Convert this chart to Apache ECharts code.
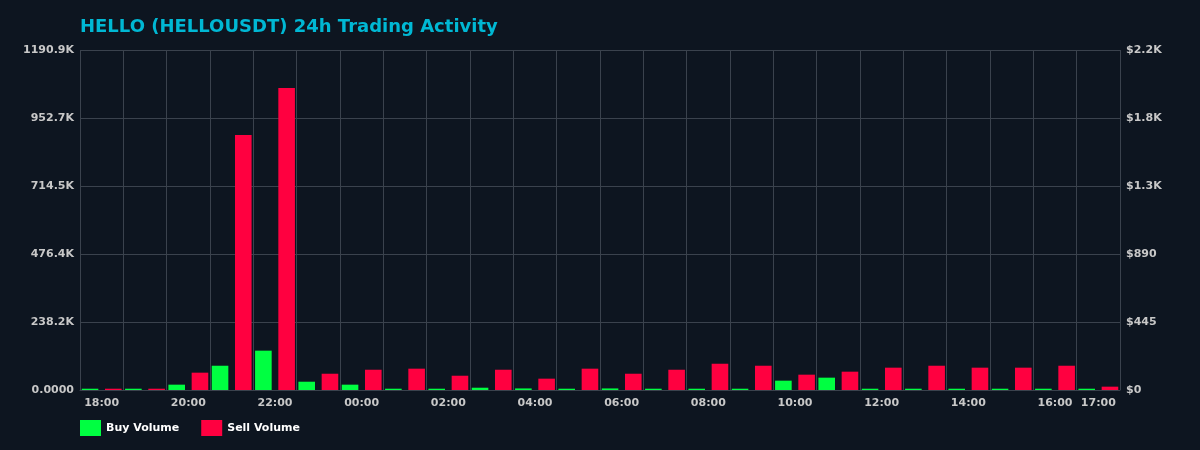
<!DOCTYPE html>
<html>
<head>
<meta charset="utf-8">
<script src="https://cdn.jsdelivr.net/npm/echarts@6/dist/echarts.min.js"></script>
<style>
html,body{margin:0;padding:0;background:#0d1520;}
#chart{width:1200px;height:450px;}
</style>
</head>
<body>
<div id="chart"></div>
<script>
const categories = ['18:00','19:00','20:00','21:00','22:00','23:00','00:00','01:00','02:00','03:00','04:00','05:00','06:00','07:00','08:00','09:00','10:00','11:00','12:00','13:00','14:00','15:00','16:00','17:00'];
const buyVolume = [4500,4500,18700,85000,137800,29000,18700,4500,4500,8000,5500,4500,5500,4500,4500,4500,32700,43200,4500,4500,4500,4500,4500,4500];
const sellVolume = [4500,4500,60700,893200,1057800,57000,71000,74700,50000,71000,39700,74700,57000,71000,92000,85000,53700,64200,78200,85000,78200,78200,85000,11700];
const volumeAxisMax = 1190900;
const volumeAxisStep = 238180;
const usdAxisMax = 2225;
const usdAxisStep = 445;

const chart = echarts.init(document.getElementById('chart'));
const font = 'DejaVu Sans';
const gridColor = '#3a424d';
const labelColor = '#c8c8c8';
chart.setOption({
  backgroundColor: '#0d1520',
  animation: false,
  title: {
    text: 'HELLO (HELLOUSDT) 24h Trading Activity',
    left: 75,
    top: 13,
    textStyle: { color: '#00b8d4', fontSize: 18, fontWeight: 'bold', fontFamily: font }
  },
  legend: {
    left: 75,
    top: 415,
    itemWidth: 21,
    itemHeight: 16,
    itemGap: 22,
    icon: 'rect',
    textStyle: { color: '#ffffff', fontSize: 11, fontWeight: 'bold', fontFamily: font },
    data: ['Buy Volume', 'Sell Volume']
  },
  grid: { left: 80, right: 80, top: 50, bottom: 60 },
  xAxis: {
    type: 'category',
    data: categories,
    boundaryGap: true,
    axisLine: { show: true, lineStyle: { color: gridColor } },
    axisTick: { show: false },
    splitLine: { show: true, interval: 0, lineStyle: { color: gridColor } },
    axisLabel: {
      color: labelColor, fontSize: 11, fontWeight: 'bold', fontFamily: font, margin: 8,
      interval: function (i) { return i % 2 === 0 || i === categories.length - 1; }
    }
  },
  yAxis: [
    {
      type: 'value',
      min: 0, max: volumeAxisMax, interval: volumeAxisStep,
      axisLine: { show: false }, axisTick: { show: false },
      splitLine: { show: true, lineStyle: { color: gridColor } },
      axisLabel: {
        color: labelColor, fontSize: 11, fontWeight: 'bold', fontFamily: font, margin: 6,
        formatter: function (v) { return v === 0 ? '0.0000' : (v / 1000).toFixed(1) + 'K'; }
      }
    },
    {
      type: 'value',
      min: 0, max: usdAxisMax, interval: usdAxisStep,
      position: 'right',
      axisLine: { show: false }, axisTick: { show: false },
      splitLine: { show: false },
      axisLabel: {
        color: labelColor, fontSize: 11, fontWeight: 'bold', fontFamily: font, margin: 6,
        formatter: function (v) { return v >= 1000 ? '$' + (v / 1000).toFixed(1) + 'K' : '$' + Math.round(v); }
      }
    }
  ],
  series: [
    {
      name: 'Buy Volume', type: 'bar', yAxisIndex: 0, data: buyVolume,
      itemStyle: { color: '#00ff41' },
      barCategoryGap: '8%', barGap: '40%'
    },
    {
      name: 'Sell Volume', type: 'bar', yAxisIndex: 0, data: sellVolume,
      itemStyle: { color: '#ff0040' },
      barCategoryGap: '8%', barGap: '40%'
    }
  ]
});
</script>
</body>
</html>
